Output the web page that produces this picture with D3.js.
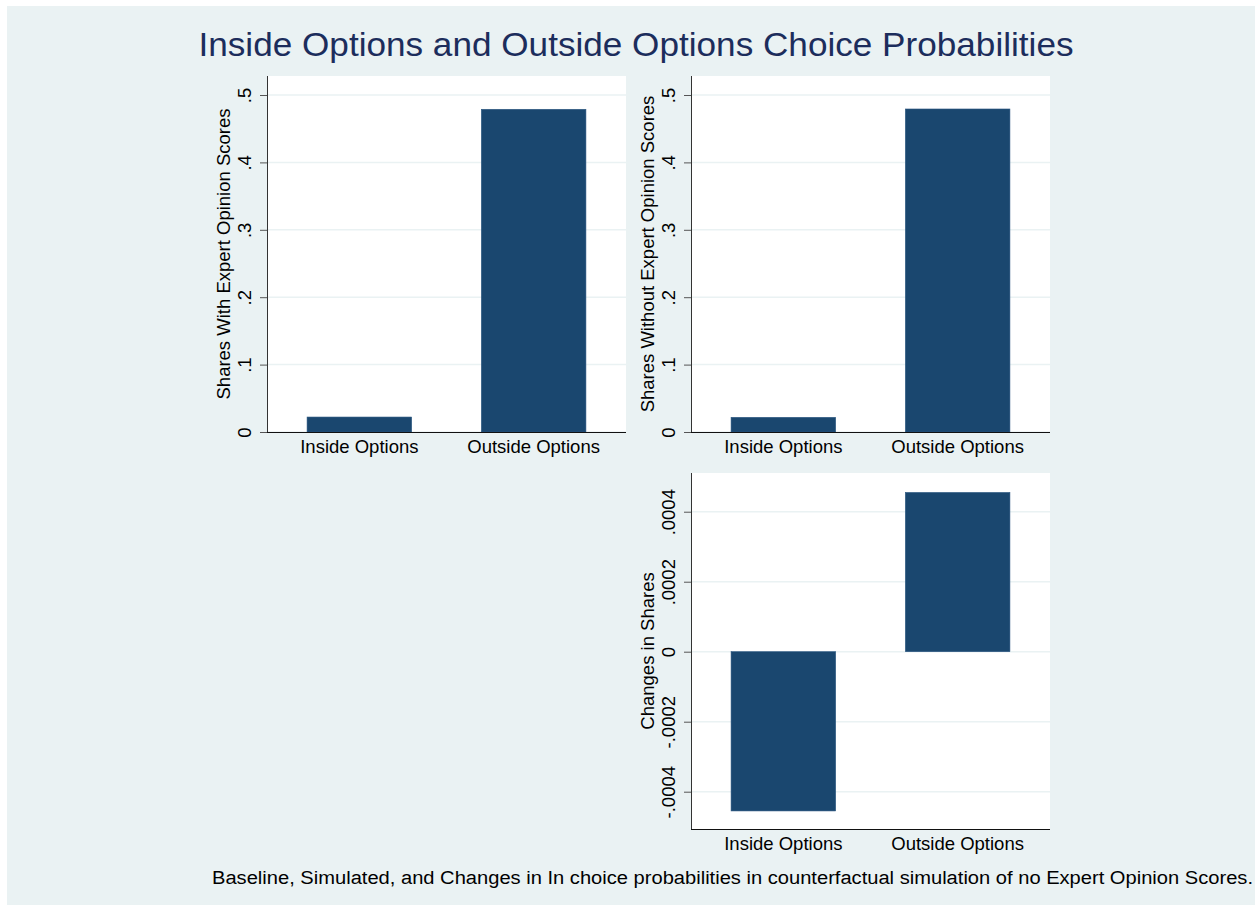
<!DOCTYPE html>
<html>
<head>
<meta charset="utf-8">
<script src="https://cdn.jsdelivr.net/npm/d3@7/dist/d3.min.js"></script>
<style>
  html, body { margin: 0; padding: 0; background: #ffffff; }
  svg { display: block; font-family: "Liberation Sans", Arial, sans-serif; }
</style>
</head>
<body>
<svg id="chart" width="1255" height="909"></svg>
<script>
// Choice categories and simulated shares
const categories = ["Inside Options", "Outside Options"];
const sharesWithScores = [0.0222, 0.4788];
const sharesWithoutScores = [0.02175, 0.47925];
const shareChanges = [-0.000455, 0.000455];

// Tick values for the two kinds of axes
const shareTicks = [0, 0.1, 0.2, 0.3, 0.4, 0.5];
const changeTicks = [-0.0004, -0.0002, 0, 0.0002, 0.0004];

const chartTitle = "Inside Options and Outside Options Choice Probabilities";
const chartNote = "Baseline, Simulated, and Changes in In choice probabilities in counterfactual simulation of no Expert Opinion Scores.";

const barColor = "#1a476f";
const gridColor = "#eaf2f3";
const bgColor = "#eaf2f3";
const titleColor = "#1c2d5c";

const svg = d3.select("#chart");

// Outer graph region
svg.append("rect")
  .attr("x", 7).attr("y", 6)
  .attr("width", 1248).attr("height", 899)
  .attr("fill", bgColor);

svg.append("text")
  .attr("x", 636).attr("y", 56)
  .attr("text-anchor", "middle")
  .attr("font-size", 34)
  .attr("textLength", 875)
  .attr("lengthAdjust", "spacingAndGlyphs")
  .attr("fill", titleColor)
  .text(chartTitle);

svg.append("text")
  .attr("x", 1253).attr("y", 884)
  .attr("text-anchor", "end")
  .attr("font-size", 18)
  .attr("textLength", 1041)
  .attr("lengthAdjust", "spacingAndGlyphs")
  .attr("fill", "#000")
  .text(chartNote);

// Stata-style number labels: drop the leading zero
const stataFmt = v => {
  if (v === 0) return "0";
  const s = String(+v.toPrecision(6));
  return s.replace(/^(-?)0\./, "$1.");
};

const panels = [
  { left: 267, right: 626, top: 76, bottom: 432, domain: [0, 0.5282],
    values: sharesWithScores, ticks: shareTicks, title: "Shares With Expert Opinion Scores" },
  { left: 691, right: 1050, top: 76, bottom: 432, domain: [0, 0.5282],
    values: sharesWithoutScores, ticks: shareTicks, title: "Shares Without Expert Opinion Scores" },
  { left: 691, right: 1050, top: 473, bottom: 829, domain: [-0.0005066, 0.0005106],
    values: shareChanges, ticks: changeTicks, title: "Changes in Shares" }
];

panels.forEach(p => {
  const g = svg.append("g");

  const x = d3.scaleBand()
    .domain(categories)
    .range([p.left, p.right])
    .paddingInner(0.4)
    .paddingOuter(0.23);

  const y = d3.scaleLinear()
    .domain(p.domain)
    .range([p.bottom, p.top]);

  // plot region
  g.append("rect")
    .attr("x", p.left).attr("y", p.top)
    .attr("width", p.right - p.left).attr("height", p.bottom - p.top)
    .attr("fill", "#ffffff");

  // horizontal grid
  g.selectAll(".grid")
    .data(p.ticks)
    .join("line")
    .attr("x1", p.left).attr("x2", p.right)
    .attr("y1", d => y(d)).attr("y2", d => y(d))
    .attr("stroke", gridColor)
    .attr("stroke-width", 1.5);

  // bars, drawn from zero
  g.selectAll(".bar")
    .data(categories.map((c, i) => ({ c, v: p.values[i] })))
    .join("rect")
    .attr("x", d => x(d.c))
    .attr("width", x.bandwidth())
    .attr("y", d => y(Math.max(0, d.v)))
    .attr("height", d => Math.abs(y(d.v) - y(0)))
    .attr("fill", barColor)
    .attr("stroke", "#2a5680")
    .attr("stroke-width", 0.6);

  // y axis
  const yAxis = d3.axisLeft(y)
    .tickValues(p.ticks)
    .tickFormat(stataFmt)
    .tickSize(7)
    .tickPadding(0);

  const ya = g.append("g")
    .attr("transform", `translate(${p.left},0)`)
    .call(yAxis);
  ya.select(".domain").attr("stroke", "#333").attr("d", `M0.5,${p.top}V${p.bottom}`);
  ya.selectAll(".tick line").attr("stroke", "#555");
  ya.selectAll(".tick text")
    .attr("font-size", 18.5)
    .attr("fill", "#000")
    .attr("x", null).attr("dy", null)
    .attr("text-anchor", "middle")
    .attr("transform", "translate(-22,0) rotate(-90)")
    .attr("dy", "0.35em");

  // x axis line along the bottom of the plot region
  g.append("line")
    .attr("x1", p.left).attr("x2", p.right)
    .attr("y1", p.bottom + 0.5).attr("y2", p.bottom + 0.5)
    .attr("stroke", "#111")
    .attr("stroke-width", 1.2);

  // category labels
  g.selectAll(".cat")
    .data(categories)
    .join("text")
    .attr("x", d => x(d) + x.bandwidth() / 2)
    .attr("y", p.bottom + 21)
    .attr("text-anchor", "middle")
    .attr("font-size", 18.5)
    .attr("fill", "#000")
    .text(d => d);

  // y axis title
  g.append("text")
    .attr("transform", `translate(${p.left - 43},${(p.top + p.bottom) / 2}) rotate(-90)`)
    .attr("text-anchor", "middle")
    .attr("dy", "0.35em")
    .attr("font-size", 18.5)
    .attr("fill", "#000")
    .text(p.title);
});
</script>
</body>
</html>
